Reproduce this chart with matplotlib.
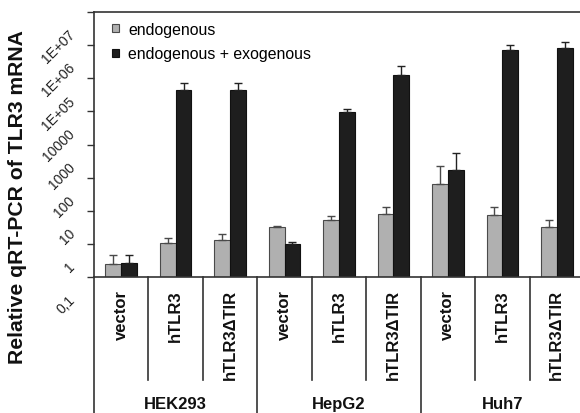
import matplotlib
matplotlib.use("Agg")
import matplotlib.pyplot as plt
import matplotlib.transforms as mtransforms
from matplotlib.patches import Patch
import numpy as np

plt.rcParams['font.family'] = ['Liberation Sans', 'DejaVu Sans']

groups = ["HEK293", "HepG2", "Huh7"]
constructs = ["vector", "hTLR3", "hTLR3\u0394TIR"]
series_names = ["endogenous", "endogenous + exogenous"]

endo = [0.25, 1.07, 1.3, 3.2, 5.2, 8.1, 63, 7.2, 3.3]
endo_top = [0.47, 1.5, 2.0, 3.5, 6.9, 13, 230, 13, 5.4]
total = [0.26, 45000, 45000, 0.98, 9400, 128000, 167, 690000, 800000]
total_top = [0.47, 74000, 74000, 1.15, 11700, 230000, 560, 980000, 1250000]

ytick_vals = [0.1, 1, 10, 100, 1000, 10000, 1e5, 1e6, 1e7]
ytick_labels = ["0,1", "1", "10", "100", "1000", "10000", "1E+05", "1E+06", "1E+07"]

W, H = 580, 414
fig = plt.figure(figsize=(W / 100, H / 100), dpi=100)
left_px, right_px, top_px, base_px = 94, 584, 13, 278
ax = fig.add_axes([left_px / W, 1 - base_px / H, (right_px - left_px) / W, (base_px - top_px) / H])

n = len(endo)
x = np.arange(n)
bw = 0.29
base = 0.1
gray_c = "#b0b0b0"
black_c = "#1e1e1e"

endo_a = np.array(endo)
total_a = np.array(total)
ax.bar(x - bw / 2, endo_a - base, bw, bottom=base, color=gray_c, edgecolor="#4a4a4a", linewidth=0.8, zorder=2)
ax.bar(x + bw / 2, total_a - base, bw, bottom=base, color=black_c, edgecolor="#111111", linewidth=0.8, zorder=2)
ax.errorbar(x - bw / 2, endo_a, yerr=[np.zeros(n), np.array(endo_top) - endo_a], fmt="none",
            ecolor="#4a4a4a", elinewidth=1.0, capsize=3, capthick=1.0, zorder=3)
ax.errorbar(x + bw / 2, total_a, yerr=[np.zeros(n), np.array(total_top) - total_a], fmt="none",
            ecolor="#222222", elinewidth=1.0, capsize=3, capthick=1.0, zorder=3)

ax.set_yscale("log")
ax.set_ylim(0.1, 1e7)
ax.set_xlim(-0.5, n - 0.5)
ax.set_yticks(ytick_vals)
ax.yaxis.set_minor_locator(matplotlib.ticker.NullLocator())
ax.set_yticklabels([])
ax.tick_params(axis="y", direction="out", length=5, width=1.0, color="#333333")
ax.set_xticks([])
for s in ["left", "bottom", "top"]:
    ax.spines[s].set_color("#333333")
    ax.spines[s].set_linewidth(1.2)
ax.spines["right"].set_visible(False)
ax.spines["left"].set_bounds(0.1, 1e7)

# rotated tick labels
lab_tr = mtransforms.offset_copy(ax.get_yaxis_transform(), fig=fig, x=-26, y=-15, units="dots")
for v, t in zip(ytick_vals, ytick_labels):
    ax.text(0, v, t, transform=lab_tr, rotation=45, rotation_mode="anchor",
            ha="right", va="top", fontsize=10, color="#222222")

# category table below
btr = ax.get_xaxis_transform()
ax_h = base_px - top_px
def ay(py):
    return (base_px - py) / ax_h

line_kw = dict(color="#333333", linewidth=1.2, transform=btr, clip_on=False)
ax.plot([-0.5, -0.5], [0, ay(H + 2)], **line_kw)
for i in range(1, n):
    if i % 3 == 0:
        ax.plot([i - 0.5, i - 0.5], [0, ay(H + 2)], **line_kw)
    else:
        ax.plot([i - 0.5, i - 0.5], [0, ay(381)], **line_kw)

for i in range(n):
    ax.text(i, ay(290), constructs[i % 3], transform=btr, rotation=90, ha="center", va="top",
            fontsize=12, fontweight="bold", color="#111111")
for g, name in enumerate(groups):
    ax.text(3 * g + 1, ay(405), name, transform=btr, ha="center", va="center",
            fontsize=12, fontweight="bold", color="#111111")

fig.text(18 / W, 1 - 197 / H, "Relative qRT-PCR of TLR3 mRNA", rotation=90, ha="center", va="center",
         fontsize=15.2, fontweight="bold", color="#111111")

handles = [Patch(facecolor=gray_c, edgecolor="#4a4a4a", linewidth=0.8),
           Patch(facecolor=black_c, edgecolor="#111111", linewidth=0.8)]
ax.legend(handles, series_names, loc="upper left", bbox_to_anchor=((112 - left_px) / (right_px - left_px), ay(23)),
          frameon=False, fontsize=11.4, handlelength=0.42, handleheight=0.42, handletextpad=0.6,
          labelspacing=0.6, borderpad=0, borderaxespad=0)

fig.savefig("out.png", dpi=100)
